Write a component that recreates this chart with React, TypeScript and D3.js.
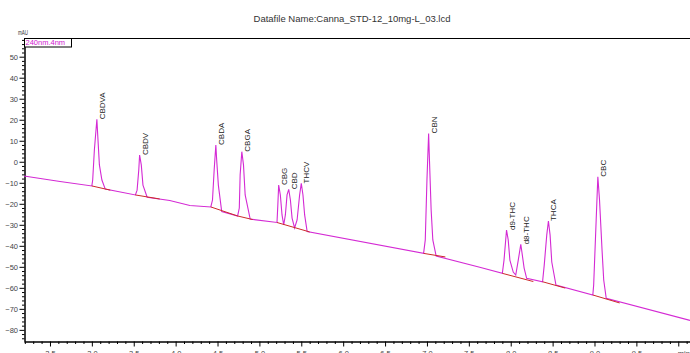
import React, { useEffect, useRef } from 'react';
import * as d3 from 'd3';

const title = "Datafile Name:Canna_STD-12_10mg-L_03.lcd";
const channelName = "240nm.4nm";
const yUnit = "mAU";
const xUnit = "min";

// detector trace: retention time (min) and signal (mAU)
const traceTime = [
    2.19, 2.62, 3.00, 3.01, 3.03, 3.06, 3.07, 3.09, 3.12, 3.16,
    3.52, 3.54, 3.56, 3.57, 3.59, 3.61, 3.66,
    3.93, 4.17, 4.42, 4.44, 4.46, 4.48, 4.49, 4.51, 4.55,
    4.74, 4.76, 4.77, 4.79, 4.81, 4.83, 4.89,
    5.21, 5.22, 5.23, 5.25, 5.27, 5.29, 5.31, 5.33, 5.35, 5.37, 5.39, 5.42,
    5.45, 5.48, 5.50, 5.52, 5.54, 5.57,
    6.96, 6.98, 7.00, 7.02, 7.03, 7.05, 7.07, 7.11,
    7.63, 7.90, 7.92, 7.94, 7.95, 7.97, 7.99, 8.03, 8.06,
    8.09, 8.12, 8.13, 8.16, 8.19,
    8.38, 8.40, 8.43, 8.45, 8.47, 8.49, 8.54,
    8.98, 8.99, 9.02, 9.04, 9.06, 9.09, 9.11, 9.14, 10.14
];
const traceMAU = [
    -6.8, -9.4, -11.5, -8.7, 5.6, 20.2, 12.7, -1.5, -8.7, -13.0,
    -15.8, -13.5, -3.9, 3.2, -1.5, -11.1, -16.9,
    -18.4, -20.8, -21.5, -18.2, -3.9, 8.0, 0.8, -11.1, -23.7,
    -25.8, -22.0, -6.3, 4.8, -1.5, -15.8, -27.3,
    -28.9, -20.6, -11.1, -15.8, -25.3, -30.1, -25.3, -15.8, -13.1, -18.2, -26.8, -31.5,
    -27.7, -15.8, -10.3, -15.8, -25.3, -33.2,
    -43.6, -37.2, -8.7, 13.5, 0.8, -23.0, -37.2, -44.9,
    -50.2, -53.1, -46.8, -37.2, -32.5, -37.2, -46.8, -52.5, -53.9,
    -46.8, -39.3, -42.0, -50.6, -55.5,
    -57.1, -49.2, -34.9, -28.2, -34.9, -47.7, -58.7,
    -63.4, -58.7, -27.7, -7.1, -18.2, -42.0, -56.3, -65.0, -75.5
];

// peak labels
const peakNames = ["CBDVA", "CBDV", "CBDA", "CBGA", "CBG", "CBD", "THCV", "CBN", "d9-THC", "d8-THC", "THCA", "CBC"];
const peakTimes = [3.06, 3.57, 4.48, 4.79, 5.23, 5.35, 5.50, 7.02, 7.95, 8.12, 8.45, 9.04];
const peakHeights = [20.2, 3.2, 8.0, 4.8, -11.1, -13.1, -10.3, 13.5, -32.5, -39.3, -28.2, -7.1];

// integration baselines (start / end)
const baseStartTime = [3.00, 3.52, 4.42, 4.74, 5.21, 6.96, 7.90, 8.38, 8.98];
const baseStartMAU = [-11.5, -15.8, -21.5, -25.8, -28.9, -43.6, -53.1, -57.1, -63.4];
const baseEndTime = [3.22, 3.81, 4.74, 4.92, 5.60, 7.22, 8.27, 8.65, 9.30];
const baseEndMAU = [-13.5, -17.7, -25.8, -27.5, -33.4, -45.3, -57.0, -60.1, -67.2];

const yMajorTicks = [50, 40, 30, 20, 10, 0, -10, -20, -30, -40, -50, -60, -70, -80];
const xMajorTicks = [2.5, 3.0, 3.5, 4.0, 4.5, 5.0, 5.5, 6.0, 6.5, 7.0, 7.5, 8.0, 8.5, 9.0, 9.5, 10.0];

const font = "Arial, 'Liberation Sans', sans-serif";

const App = () => {
    const ref = useRef<SVGSVGElement>(null);

    useEffect(() => {
        drawChart();
    }, []);

    const drawChart = () => {
        const svg = d3.select(ref.current);
        svg.selectAll("*").remove();

        const width = 690;
        const height = 353;
        const margin = { top: 38, left: 24, bottom: 12 };

        const x = d3.scaleLinear().domain([2.19, 10.14]).range([margin.left, width]);
        const y = d3.scaleLinear().domain([-85.3, 58.9]).range([height - margin.bottom, margin.top]);

        svg.append("rect").attr("width", width).attr("height", height).attr("fill", "#fff");

        // title
        svg.append("text")
            .attr("x", 352)
            .attr("y", 22)
            .attr("text-anchor", "middle")
            .attr("font-family", font)
            .attr("font-size", 9.5)
            .attr("fill", "#333")
            .text(title);

        // plot frame top
        svg.append("line")
            .attr("x1", margin.left).attr("x2", width)
            .attr("y1", margin.top + 0.5).attr("y2", margin.top + 0.5)
            .attr("stroke", "#000");

        // minor ticks
        const yMinorTicks = d3.range(-84, 59, 2).filter(v => v % 10 !== 0);
        svg.append("g")
            .attr("transform", `translate(${margin.left + 0.5},0)`)
            .call(d3.axisLeft(y).tickValues(yMinorTicks).tickSize(2.5).tickSizeOuter(0).tickFormat(() => ""));

        const xMinorTicks = d3.range(22, 102).map(d => d / 10).filter(d => Math.round(d * 10) % 5 !== 0);
        svg.append("g")
            .attr("transform", `translate(0,${height - margin.bottom + 0.5})`)
            .call(d3.axisBottom(x).tickValues(xMinorTicks).tickSize(2.5).tickSizeOuter(0).tickFormat(() => ""));

        // major ticks and labels
        const yAxis = svg.append("g")
            .attr("transform", `translate(${margin.left + 0.5},0)`)
            .call(d3.axisLeft(y).tickValues(yMajorTicks).tickSize(5).tickSizeOuter(0).tickPadding(1.5).tickFormat(d3.format("d")));

        const xAxis = svg.append("g")
            .attr("transform", `translate(0,${height - margin.bottom + 0.5})`)
            .call(d3.axisBottom(x).tickValues(xMajorTicks).tickSize(5).tickSizeOuter(0).tickPadding(4)
                .tickFormat(d => (d === 10 ? xUnit : d3.format(".1f")(d))));

        [yAxis, xAxis].forEach(a => {
            a.selectAll("text")
                .attr("font-family", font)
                .attr("font-size", 7.5)
                .attr("fill", "#444");
            a.select(".domain").attr("stroke", "#000");
        });
        svg.selectAll(".tick line").attr("stroke", "#000");
        xAxis.selectAll(".tick text").filter(d => d === 10).attr("text-anchor", "start").attr("dx", -1);

        // y unit
        svg.append("text")
            .attr("x", 18)
            .attr("y", 35)
            .attr("font-family", font)
            .attr("font-size", 7)
            .attr("textLength", 10)
            .attr("lengthAdjust", "spacingAndGlyphs")
            .attr("fill", "#333")
            .text(yUnit);

        // channel legend box
        svg.append("rect")
            .attr("x", margin.left + 0.5)
            .attr("y", margin.top + 0.5)
            .attr("width", 47)
            .attr("height", 8.5)
            .attr("fill", "#fff")
            .attr("stroke", "#000");
        svg.append("text")
            .attr("x", margin.left + 1.5)
            .attr("y", margin.top + 7)
            .attr("font-family", font)
            .attr("font-size", 7.5)
            .attr("fill", "#d020d0")
            .text(channelName);

        // trace
        const points = traceTime.map((t, i) => [t, traceMAU[i]] as [number, number]);
        const line = d3.line<[number, number]>()
            .x(d => x(d[0]))
            .y(d => y(d[1]));

        svg.append("path")
            .datum(points)
            .attr("d", line)
            .attr("fill", "none")
            .attr("stroke", "#d42ad4")
            .attr("stroke-width", 1.1);

        // integration baselines
        baseStartTime.forEach((t, i) => {
            svg.append("line")
                .attr("x1", x(t))
                .attr("y1", y(baseStartMAU[i]))
                .attr("x2", x(baseEndTime[i]))
                .attr("y2", y(baseEndMAU[i]))
                .attr("stroke", "#cc2a2a")
                .attr("stroke-width", 1);
        });

        // peak names
        peakNames.forEach((name, i) => {
            svg.append("text")
                .attr("transform", `translate(${x(peakTimes[i]) + 8},${y(peakHeights[i])}) rotate(-90)`)
                .attr("font-family", font)
                .attr("font-size", 8)
                .attr("fill", "#222")
                .text(name);
        });
    };

    return (
        <svg ref={ref} width={690} height={353} style={{ position: 'absolute', left: 0, top: 0 }} />
    );
};

export default App;
